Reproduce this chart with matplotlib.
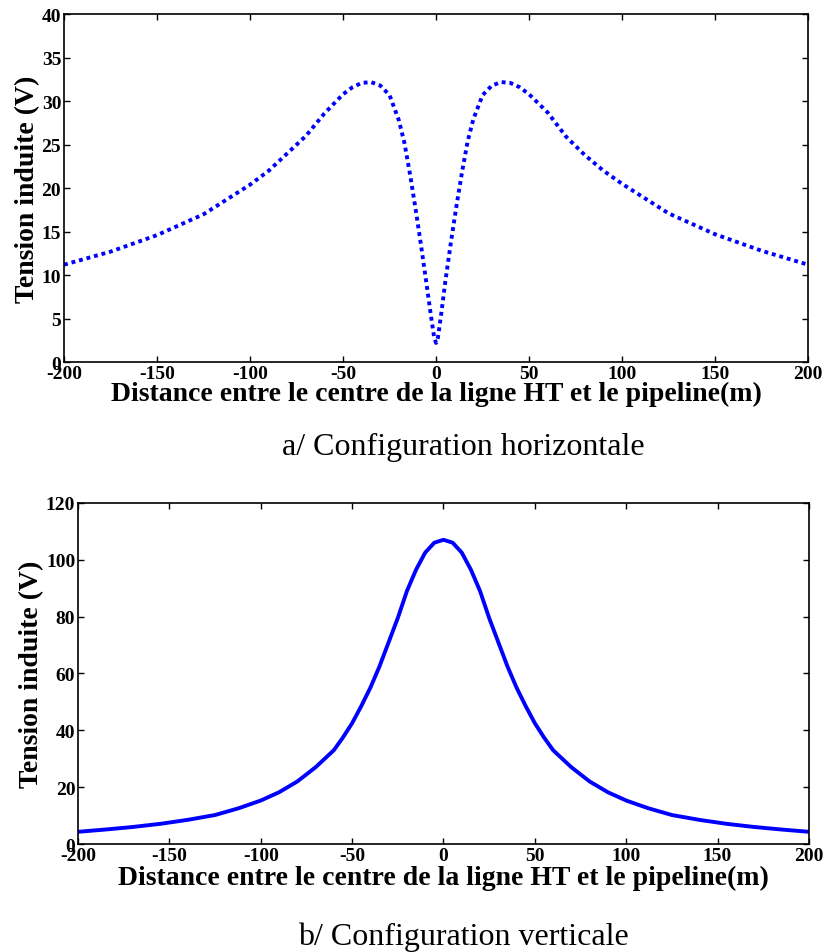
import matplotlib
matplotlib.use("Agg")
import matplotlib.pyplot as plt

# a/ horizontal configuration (dotted curve)
x_h = [-200, -175, -150, -125, -100, -90, -80, -70, -60, -50, -45, -40, -35, -30,
       -25, -20, -17, -14, -11, -8, -5, -3, -1, 0, 1, 3, 5, 8, 11, 14, 17, 20,
       25, 30, 35, 40, 45, 50, 60, 70, 80, 90, 100, 125, 150, 175, 200]
v_h = [11.2, 12.7, 14.6, 17.0, 20.4, 22.0, 24.0, 26.0, 28.6, 30.8, 31.6, 32.1, 32.2, 31.8,
       30.7, 27.8, 25.2, 21.6, 17.6, 13.3, 8.8, 5.7, 2.8, 2.2, 2.8, 5.9, 9.3, 13.8, 18.0, 21.9, 25.4, 27.9,
       30.7, 31.8, 32.2, 32.1, 31.6, 30.8, 28.7, 25.9, 23.8, 22.0, 20.5, 17.1, 14.7, 12.8, 11.2]

# b/ vertical configuration (solid curve)
x_v = [-200, -185, -170, -155, -140, -125, -112, -100, -90, -80, -70, -60, -55, -50, -45, -40,
       -35, -30, -25, -20, -15, -10, -5, 0, 5, 10, 15, 20, 25, 30, 35, 40, 45, 50, 55, 60,
       70, 80, 90, 100, 112, 125, 140, 155, 170, 185, 200]
v_v = [4.3, 5.1, 6.0, 7.1, 8.5, 10.2, 12.6, 15.3, 18.2, 22.0, 27.0, 33.0, 37.5, 42.5, 48.5, 55.0,
       62.5, 71.0, 79.5, 89.0, 96.5, 102.5, 106.0, 107.0, 106.0, 102.5, 96.5, 89.0, 79.5, 71.0,
       62.5, 55.0, 48.5, 42.5, 37.5, 33.0, 27.0, 22.0, 18.2, 15.3, 12.6, 10.2, 8.5, 7.1, 6.0, 5.1, 4.3]

x_ticks = [-200, -150, -100, -50, 0, 50, 100, 150, 200]
xlabel = "Distance entre le centre de la ligne HT et le pipeline(m)"
ylabel = "Tension induite (V)"

plt.rcParams['font.family'] = 'Liberation Serif'
plt.rcParams['axes.unicode_minus'] = False

fig = plt.figure(figsize=(8.24, 9.53), dpi=100)
ax1 = fig.add_axes([0.0777, 0.619, 0.903, 0.365])
ax2 = fig.add_axes([0.0947, 0.1133, 0.887, 0.358])


def style(ax, ymax, ystep, xpad):
    ax.set_xlim(-200, 200)
    ax.set_ylim(0, ymax)
    ax.set_xticks(x_ticks)
    ax.set_yticks(range(0, ymax + 1, ystep))
    ax.tick_params(direction='in', top=True, right=True, length=4, width=1,
                   labelsize=14, pad=2)
    for lab in ax.get_xticklabels() + ax.get_yticklabels():
        lab.set_fontweight('bold')
    for sp in ax.spines.values():
        sp.set_linewidth(1.2)
    ax.set_xlabel(xlabel, fontsize=20, fontweight='bold', labelpad=xpad)
    ax.set_ylabel(ylabel, fontsize=20, fontweight='bold', labelpad=1)


ax1.plot(x_h, v_h, color='blue', lw=2.8, linestyle=(0, (1, 1.0)))
style(ax1, 40, 5, -1)
ax2.plot(x_v, v_v, color='blue', lw=2.8)
style(ax2, 120, 20, 1)

fig.text(0.562, 0.5226, "a/ Configuration horizontale", fontsize=23, ha='center', va='baseline')
fig.text(0.562, 0.0084, "b/ Configuration verticale", fontsize=23, ha='center', va='baseline')

fig.savefig("out.png", dpi=100)
